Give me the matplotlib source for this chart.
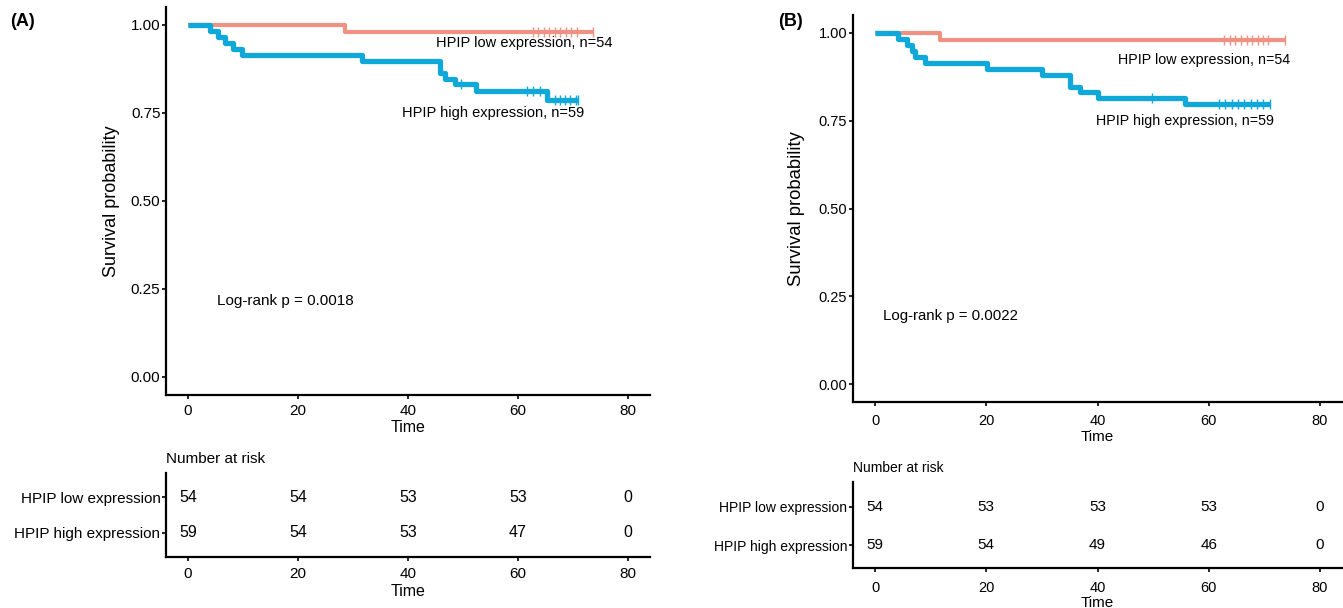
import numpy as np
import matplotlib
matplotlib.use("Agg")
import matplotlib.pyplot as plt

plt.rcParams["font.family"] = ["Liberation Sans", "DejaVu Sans"]

# Kaplan-Meier step data
a_low_t = [0, 28.5]
a_low_s = [1.0, 0.981]
a_low_end = 73.7
a_low_cens = [62.7, 63.7, 64.7, 65.7, 66.7, 67.7, 68.7, 69.7, 70.7, 73.7]

a_high_t = [0, 4.0, 5.5, 6.7, 8.1, 9.8, 31.6, 45.9, 46.7, 48.5, 52.3, 65.3]
a_high_s = [1.0, 0.983, 0.966, 0.949, 0.932, 0.915, 0.898, 0.864, 0.847, 0.831, 0.813, 0.788]
a_high_end = 70.9
a_high_cens = [49.6, 61.6, 62.8, 64.0, 66.7, 67.6, 68.5, 69.5, 70.5, 70.9]

b_low_t = [0, 11.6]
b_low_s = [1.0, 0.981]
b_low_end = 73.7
b_low_cens = [62.8, 63.8, 64.8, 65.8, 66.8, 67.8, 68.8, 69.8, 70.7, 73.7]

b_high_t = [0, 4.2, 5.7, 6.6, 7.2, 8.9, 20.1, 30.0, 35.1, 36.9, 40.0, 55.7]
b_high_s = [1.0, 0.983, 0.966, 0.949, 0.932, 0.915, 0.898, 0.881, 0.847, 0.831, 0.814, 0.797]
b_high_end = 71.0
b_high_cens = [49.8, 61.9, 63.0, 64.2, 65.3, 66.4, 67.6, 68.7, 69.8, 71.0]

risk_times = [0, 20, 40, 60, 80]
a_risk_low = [54, 54, 53, 53, 0]
a_risk_high = [59, 54, 53, 47, 0]
b_risk_low = [54, 53, 53, 53, 0]
b_risk_high = [59, 54, 49, 46, 0]

groups = ["HPIP low expression", "HPIP high expression"]
c_low = "#EF9283"
c_high = "#10A8D8"


def surv_at(t, times, surv):
    idx = np.searchsorted(times, t, side="right") - 1
    return np.array(surv)[idx]


def draw_km(ax, times, surv, end, cens, color, lw):
    tt = np.append(times, end)
    ss = np.append(surv, surv[-1])
    ax.step(tt, ss, where="post", color=color, lw=lw, solid_capstyle="butt")
    ax.plot(cens, surv_at(np.array(cens), times, surv), ls="none", marker="|",
            ms=7, mew=1.0, color=color)


def style_axes(ax, fs, xpad):
    for s in ["top", "right"]:
        ax.spines[s].set_visible(False)
    for s in ["left", "bottom"]:
        ax.spines[s].set_linewidth(1.6)
    ax.tick_params(length=3, width=1.2, labelsize=fs, colors="black")
    ax.tick_params(axis="y", pad=1.0)
    ax.tick_params(axis="x", pad=xpad)
    ax.set_xlim(-4, 84)
    ax.set_xticks(risk_times)


fig = plt.figure(figsize=(13.43, 6.08), dpi=100)
W, H = 1343, 608


def add_ax(left, top, right, bottom):
    return fig.add_axes([left / W, 1 - bottom / H, (right - left) / W, (bottom - top) / H])


panels = [
    dict(main=(166, 7.4, 650, 394.6), table=(166, 473, 650, 557), tylim=(0.333, 2.667),
         low=(a_low_t, a_low_s, a_low_end, a_low_cens),
         high=(a_high_t, a_high_s, a_high_end, a_high_cens),
         risk=(a_risk_low, a_risk_high), fs=11, afs=10.5, tfs=11, nfs=11.5, yfs=13,
         xpad=4, tlp=2.5, tag="(A)", tagx=10,
         low_lab=(61.1, 0.949), high_lab=(55.4, 0.75), p_lab=(5.3, 0.216), p="0.0018",
         ylx=-0.095),
    dict(main=(852.75, 15.45, 1342.25, 401.55), table=(852.75, 482, 1342.25, 568),
         tylim=(0.4, 2.645),
         low=(b_low_t, b_low_s, b_low_end, b_low_cens),
         high=(b_high_t, b_high_s, b_high_end, b_high_cens),
         risk=(b_risk_low, b_risk_high), fs=10.5, afs=10.3, tfs=10, nfs=11, yfs=13.3,
         xpad=6, tlp=1, tag="(B)", tagx=778,
         low_lab=(59.1, 0.923), high_lab=(55.7, 0.749), p_lab=(1.4, 0.194), p="0.0022",
         ylx=-0.098),
]

for p in panels:
    fs = p["fs"]
    ax = add_ax(*p["main"])
    draw_km(ax, *p["low"], c_low, 3.0)
    draw_km(ax, *p["high"], c_high, 3.8)
    style_axes(ax, fs, p["xpad"])
    ax.set_ylim(-0.05, 1.05)
    ax.set_yticks([0, 0.25, 0.5, 0.75, 1.0])
    ax.set_yticklabels(["0.00", "0.25", "0.50", "0.75", "1.00"])
    ax.set_xlabel("Time", fontsize=fs + 0.5, labelpad=1.5)
    ax.set_ylabel("Survival probability", fontsize=p["yfs"])
    ax.yaxis.set_label_coords(p["ylx"], 0.5)
    ax.text(*p["low_lab"], "HPIP low expression, n=54", fontsize=p["afs"], ha="center", va="center")
    ax.text(*p["high_lab"], "HPIP high expression, n=59", fontsize=p["afs"], ha="center", va="center")
    ax.text(*p["p_lab"], "Log-rank p = " + p["p"], fontsize=p["afs"] + 0.5, ha="left", va="center")
    fig.text(p["tagx"] / W, 1 - 22 / H, p["tag"], fontsize=13, fontweight="bold",
             ha="left", va="center")

    tab = add_ax(*p["table"])
    style_axes(tab, fs, p["xpad"])
    tab.set_ylim(*p["tylim"])
    tab.set_yticks([2, 1])
    tab.set_yticklabels(groups, fontsize=p["tfs"])
    for row, counts in zip([2, 1], p["risk"]):
        for t, n in zip(risk_times, counts):
            tab.text(t, row, str(n), fontsize=p["nfs"], ha="center", va="center")
    tab.set_xlabel("Time", fontsize=fs + 0.5, labelpad=p["tlp"])
    tab.text(0, 1.08, "Number at risk", transform=tab.transAxes, fontsize=p["tfs"],
             ha="left", va="bottom")

fig.savefig("out.png", dpi=100)
